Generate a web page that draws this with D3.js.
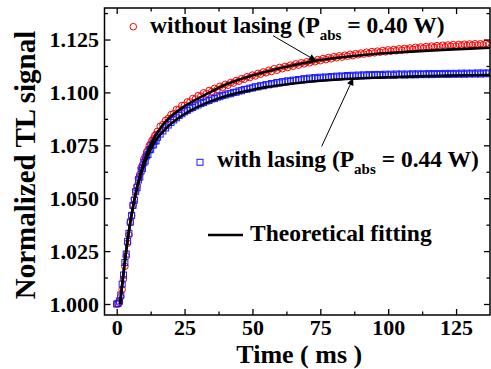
<!DOCTYPE html>
<html><head><meta charset="utf-8">
<script src="https://cdn.jsdelivr.net/npm/d3@7/dist/d3.min.js"></script>
<style>
html,body{margin:0;padding:0;background:#fff;}
svg{display:block;}
text{font-family:"Liberation Serif","Times New Roman",serif;font-weight:bold;fill:#000;}
</style></head>
<body>
<svg id="chart" width="491" height="369"></svg>
<script>
// ---------- data ----------
const timeMs = [0,0.5,1,1.5,2,2.5,3,3.5,4,4.5,5,5.5,6,6.5,7,7.5,8,8.5,9,9.5,10,10.5,11,11.5,12,12.5,13,13.5,14,14.5,15,
16,17,18,19,20,21,22,23,24,25,26,27,28,29,30,31,32,33,34,35,36,37,38,39,40,41,42,43,44,45,46,47,48,49,50,
51,52,53,54,55,56,57,58,59,60,61,62,63,64,65,66,67,68,69,70,71,72,73,74,75,76,77,78,79,80,
81,82,83,84,85,86,87,88,89,90,91,92,93,94,95,96,97,98,99,100,101,102,103,104,105,106,107,108,109,110,
111,112,113,114,115,116,117,118,119,120,121,122,123,124,125,126,127,128,129,130,131,132,133,134,135,136,137];

const withoutLasing = [1.0000,1.0002,1.0008,1.0035,1.0068,1.0118,1.0178,1.0226,1.0287,1.0326,1.0385,1.0418,1.0466,1.0497,1.0536,1.0558,1.0594,1.0612,1.0644,1.0658,1.0684,1.0697,1.0718,1.0728,1.0748,1.0757,1.0773,1.0780,1.0796,1.0801,1.0816,
1.0840,1.0848,1.0868,1.0877,1.0895,1.0900,1.0919,1.0921,1.0938,1.0939,
1.0955,1.0955,1.0971,1.0969,1.0985,1.0982,1.0998,1.0994,1.1009,1.1004,
1.1019,1.1014,1.1029,1.1024,1.1038,1.1034,1.1047,1.1044,1.1056,1.1053,
1.1065,1.1062,1.1074,1.1070,1.1082,1.1078,1.1090,1.1086,1.1097,1.1093,
1.1105,1.1099,1.1112,1.1105,1.1118,1.1112,1.1123,1.1118,1.1129,1.1124,
1.1135,1.1129,1.1140,1.1135,1.1145,1.1140,1.1150,1.1145,1.1155,1.1150,
1.1160,1.1155,1.1165,1.1159,1.1169,1.1164,1.1173,1.1167,1.1176,1.1171,
1.1180,1.1174,1.1183,1.1178,1.1186,1.1181,1.1190,1.1184,1.1193,1.1187,
1.1195,1.1190,1.1198,1.1192,1.1201,1.1195,1.1203,1.1197,1.1206,1.1200,
1.1208,1.1202,1.1210,1.1204,1.1213,1.1207,1.1215,1.1209,1.1217,1.1211,
1.1219,1.1213,1.1221,1.1215,1.1223,1.1216,1.1224,1.1218,1.1226,1.1219,
1.1227,1.1221,1.1228,1.1222,1.1229,1.1223,1.1230,1.1224,1.1230,1.1225,
1.1231,1.1226];

const withLasing = [1.0000,1.0003,1.0014,1.0042,1.0094,1.0137,1.0196,1.0236,1.0296,1.0334,1.0387,1.0419,1.0466,1.0490,1.0531,1.0550,1.0586,1.0600,1.0630,1.0641,1.0668,1.0676,1.0700,1.0706,1.0728,1.0731,1.0751,1.0752,1.0770,1.0771,1.0788,
1.0803,1.0818,1.0832,1.0846,1.0858,1.0870,1.0880,1.0891,1.0899,1.0908,
1.0915,1.0923,1.0929,1.0936,1.0941,1.0948,1.0952,1.0959,1.0962,1.0969,
1.0971,1.0978,1.0980,1.0986,1.0988,1.0993,1.0994,1.1000,1.1001,1.1007,
1.1008,1.1014,1.1015,1.1020,1.1021,1.1027,1.1026,1.1032,1.1031,1.1037,
1.1036,1.1042,1.1040,1.1047,1.1045,1.1051,1.1049,1.1055,1.1052,1.1058,
1.1056,1.1061,1.1059,1.1065,1.1062,1.1068,1.1064,1.1070,1.1066,1.1072,
1.1068,1.1073,1.1070,1.1075,1.1072,1.1077,1.1073,1.1078,1.1075,1.1080,
1.1076,1.1081,1.1077,1.1082,1.1078,1.1083,1.1079,1.1084,1.1080,1.1085,
1.1081,1.1085,1.1080,1.1086,1.1082,1.1086,1.1081,1.1087,1.1083,1.1087,
1.1082,1.1087,1.1083,1.1088,1.1083,1.1088,1.1084,1.1088,1.1084,1.1089,
1.1084,1.1089,1.1085,1.1089,1.1085,1.1090,1.1085,1.1090,1.1086,1.1090,
1.1086,1.1091,1.1086,1.1091,1.1087,1.1091,1.1087,1.1092,1.1087,1.1092,
1.1088,1.1092];

const fitTime = [1.2,2,3,4,5,6,7,8,9,10,12,14,16,18,20,22,25,28,30,35,40,45,50,55,60,65,70,75,80,90,100,110,120,130,137.5];
const fitWithout = [1.0000,1.0090,1.0200,1.0300,1.0385,1.0460,1.0525,1.0580,1.0630,1.0672,1.0740,1.0790,1.0830,1.0862,1.0887,1.0908,1.0935,1.0958,1.0972,1.1005,1.1036,1.1060,1.1080,1.1098,1.1114,1.1128,1.1141,1.1153,1.1162,1.1176,1.1186,1.1194,1.1201,1.1207,1.1211];
const fitWith = [1.0000,1.0090,1.0200,1.0300,1.0385,1.0458,1.0520,1.0572,1.0617,1.0655,1.0718,1.0765,1.0800,1.0828,1.0852,1.0872,1.0898,1.0920,1.0933,1.0960,1.0982,1.0999,1.1013,1.1025,1.1034,1.1042,1.1049,1.1055,1.1060,1.1067,1.1072,1.1076,1.1079,1.1081,1.1082];

const xTicks = [0,25,50,75,100,125];
const xMinorTicks = [12.5,37.5,62.5,87.5,112.5];
const yTicks = [1.000,1.025,1.050,1.075,1.100,1.125];
const yMinorTicks = [1.0125,1.0375,1.0625,1.0875,1.1125,1.1375];

const labelWithout = ["without lasing (P", "abs", " = 0.40 W)"];
const labelWith = ["with lasing (P", "abs", " = 0.44 W)"];
const labelFit = "Theoretical fitting";
const xTitle = "Time ( ms )";
const yTitle = "Normalized TL signal";
// arrow anchors in data units [time, signal]
const arrowWithout = [[57.6, 1.1268], [73.4, 1.1150]];
const arrowWith = [[75.5, 1.0745], [87.1, 1.1067]];

// ---------- layout ----------
const L = 104.5, R = 490, T = 8, B = 315;
const svg = d3.select("#chart");
const x = d3.scaleLinear().domain([-4.5, 137.5]).range([L, R]);
const y = d3.scaleLinear().domain([0.9948, 1.1399]).range([B, T]);

const red = "#ff0000", blue = "#1a1aff";

// data markers
const redPts = timeMs.map((t, i) => [t, withoutLasing[i]]);
const bluePts = timeMs.map((t, i) => [t, withLasing[i]]);

svg.append("g").selectAll("circle").data(redPts).join("circle")
  .attr("cx", d => x(d[0])).attr("cy", d => y(d[1])).attr("r", 3.3)
  .attr("fill", "none").attr("stroke", red).attr("stroke-width", 1);

svg.append("g").selectAll("rect").data(bluePts).join("rect")
  .attr("x", d => x(d[0]) - 3).attr("y", d => y(d[1]) - 3)
  .attr("width", 6).attr("height", 6)
  .attr("fill", "none").attr("stroke", blue).attr("stroke-width", 1);

// fit lines
const line = d3.line().x(d => x(d[0])).y(d => y(d[1])).curve(d3.curveMonotoneX);
[fitWithout, fitWith].forEach(arr => {
  svg.append("path").datum(fitTime.map((t, i) => [t, arr[i]]))
    .attr("d", line).attr("fill", "none").attr("stroke", "#000").attr("stroke-width", 2.6);
});

// axes
function styleAxis(g) {
  g.select(".domain").remove();
  g.selectAll(".tick line").attr("stroke", "#000").attr("stroke-width", 1.3);
  g.selectAll("text").style("font-size", "22px").attr("fill", "#000");
}
svg.append("g").attr("transform", `translate(0,${B})`)
  .call(d3.axisBottom(x).tickValues(xTicks).tickSize(-6).tickPadding(4.5).tickFormat(d3.format("d"))).call(styleAxis);
svg.append("g").attr("transform", `translate(0,${B})`)
  .call(d3.axisBottom(x).tickValues(xMinorTicks).tickSize(-3.5).tickFormat("")).call(styleAxis);
svg.append("g").attr("transform", `translate(0,${T})`)
  .call(d3.axisTop(x).tickValues(xTicks).tickSize(-6).tickFormat("")).call(styleAxis);
svg.append("g").attr("transform", `translate(0,${T})`)
  .call(d3.axisTop(x).tickValues(xMinorTicks).tickSize(-3.5).tickFormat("")).call(styleAxis);
svg.append("g").attr("transform", `translate(${L},0)`)
  .call(d3.axisLeft(y).tickValues(yTicks).tickSize(-6).tickPadding(5.5).tickFormat(d3.format(".3f"))).call(styleAxis);
svg.append("g").attr("transform", `translate(${L},0)`)
  .call(d3.axisLeft(y).tickValues(yMinorTicks).tickSize(-3.5).tickFormat("")).call(styleAxis);
svg.append("g").attr("transform", `translate(${R},0)`)
  .call(d3.axisRight(y).tickValues(yTicks).tickSize(-6).tickFormat("")).call(styleAxis);
svg.append("g").attr("transform", `translate(${R},0)`)
  .call(d3.axisRight(y).tickValues(yMinorTicks).tickSize(-3.5).tickFormat("")).call(styleAxis);

// frame
svg.append("rect").attr("x", L).attr("y", T).attr("width", R - L).attr("height", B - T)
  .attr("fill", "none").attr("stroke", "#000").attr("stroke-width", 1.5);

// axis titles
svg.append("text").attr("x", (L + R) / 2 + 2).attr("y", 363.3).attr("text-anchor", "middle")
  .style("font-size", "26px").text(xTitle);
svg.append("text").attr("transform", "translate(35,165) rotate(-90)").attr("text-anchor", "middle")
  .style("font-size", "29px").text(yTitle);

// legend / annotations
function subLabel(xp, yp, parts) {
  const t = svg.append("text").attr("x", xp).attr("y", yp).style("font-size", "23.5px");
  t.append("tspan").text(parts[0]);
  t.append("tspan").attr("dy", 7).style("font-size", "15px").text(parts[1]);
  t.append("tspan").attr("dy", -7).text(parts[2]);
}
svg.append("circle").attr("cx", 133.3).attr("cy", 26.7).attr("r", 3.3)
  .attr("fill", "none").attr("stroke", red).attr("stroke-width", 1);
subLabel(150, 32.5, labelWithout);

svg.append("rect").attr("x", 197).attr("y", 159.3).attr("width", 6).attr("height", 6)
  .attr("fill", "none").attr("stroke", blue).attr("stroke-width", 1);
subLabel(217, 166.5, labelWith);

svg.append("line").attr("x1", 208).attr("x2", 243).attr("y1", 235).attr("y2", 235)
  .attr("stroke", "#000").attr("stroke-width", 2.6);
svg.append("text").attr("x", 250).attr("y", 240.5).style("font-size", "23.5px").text(labelFit);

// arrows
svg.append("defs").append("marker").attr("id", "ah").attr("viewBox", "0 0 10 10")
  .attr("refX", 10).attr("refY", 5).attr("markerWidth", 9).attr("markerHeight", 7)
  .attr("markerUnits", "userSpaceOnUse").attr("orient", "auto")
  .append("path").attr("d", "M0,0 L10,5 L0,10 Z").attr("fill", "#000");
[arrowWithout, arrowWith].forEach(a => {
  svg.append("line").attr("x1", x(a[0][0])).attr("y1", y(a[0][1]))
    .attr("x2", x(a[1][0])).attr("y2", y(a[1][1]))
    .attr("stroke", "#000").attr("stroke-width", 1).attr("marker-end", "url(#ah)");
});
</script>
</body></html>
